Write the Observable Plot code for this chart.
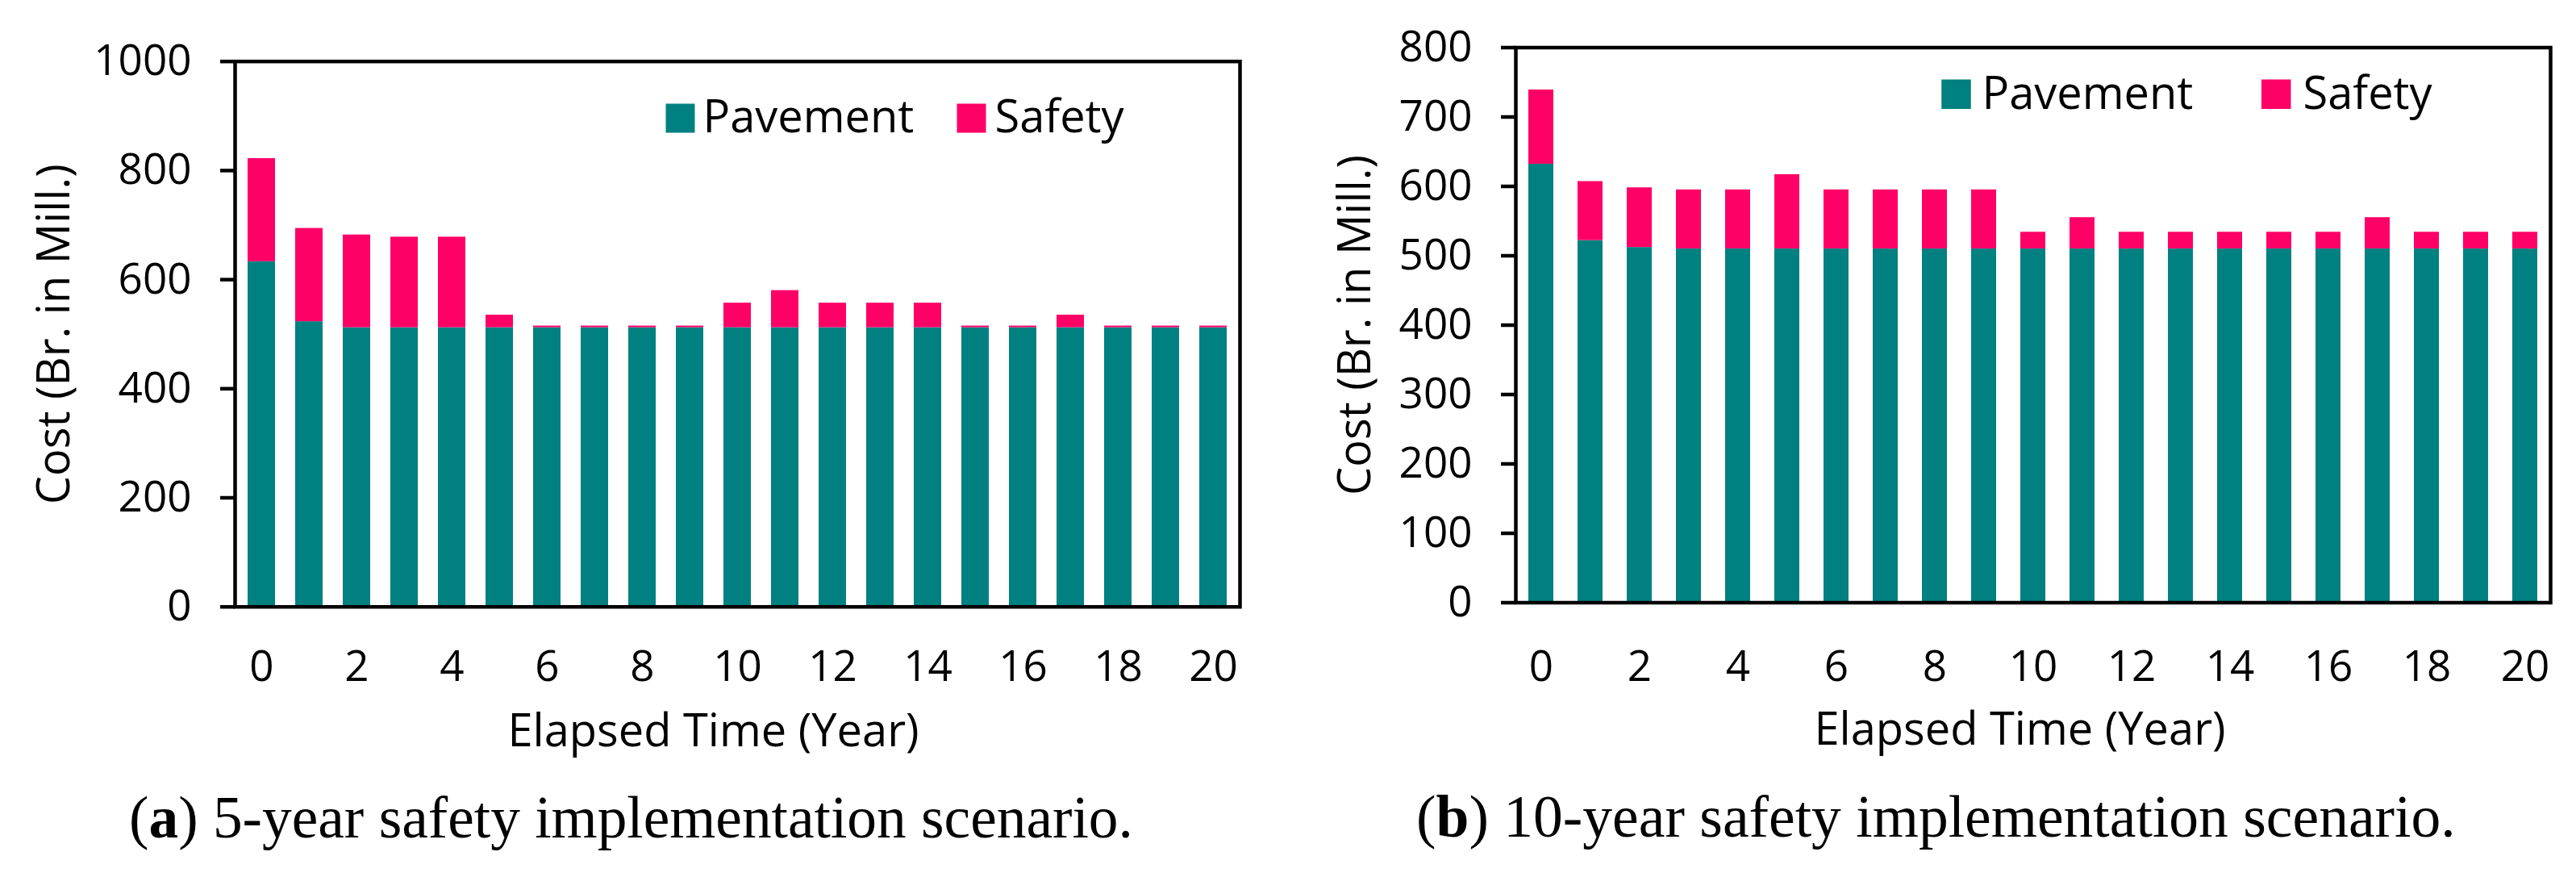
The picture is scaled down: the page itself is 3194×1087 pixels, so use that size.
<!DOCTYPE html>
<html>
<head>
<meta charset="utf-8">
<script src="https://cdn.jsdelivr.net/npm/d3@7"></script>
<script src="https://cdn.jsdelivr.net/npm/@observablehq/plot@0.6"></script>
<style>
  html, body { margin: 0; padding: 0; background: #fff; }
  #page { position: relative; width: 3194px; height: 1087px; overflow: hidden; background: #fff; }
  .panel { position: absolute; top: 0; }
  .cap { position: absolute; white-space: nowrap; font-family: "Liberation Serif", serif; line-height: 1; color: #000; }
</style>
</head>
<body>
<div id="page">
  <div id="left" class="panel" style="left:0px"></div>
  <div id="right" class="panel" style="left:1597px"></div>
  <div id="capA" class="cap"></div>
  <div id="capB" class="cap"></div>
</div>
<script>
// ---- data ----
const years = [0, 1, 2, 3, 4, 5, 6, 7, 8, 9, 10, 11, 12, 13, 14, 15, 16, 17, 18, 19, 20];
const seriesNames = ["Pavement", "Safety"];
const seriesColors = ["#008080", "#FF0066"];

// (a) 5-year safety implementation scenario
const pavement5 = [633, 523, 512, 512, 512, 512, 512, 512, 512, 512, 512, 512, 512, 512, 512, 512, 512, 512, 512, 512, 512];
const safety5   = [189, 171, 170, 166, 166,  23,   3,   3,   3,   3,  45,  68,  45,  45,  45,   3,   3,  23,   3,   3,   3];

// (b) 10-year safety implementation scenario
const pavement10 = [632, 522, 512, 510, 510, 510, 510, 510, 510, 510, 510, 510, 510, 510, 510, 510, 510, 510, 510, 510, 510];
const safety10   = [107,  85,  86,  85,  85, 107,  85,  85,  85,  85,  24,  45,  24,  24,  24,  24,  24,  45,  24,  24,  24];

const yTicks5  = [0, 200, 400, 600, 800, 1000];
const yTicks10 = [0, 100, 200, 300, 400, 500, 600, 700, 800];
const xTicks   = [0, 2, 4, 6, 8, 10, 12, 14, 16, 18, 20];

const yTitle = "Cost (Br. in Mill.)";
const xTitle = "Elapsed Time (Year)";

function rows(pav, saf) {
  return years.flatMap((yr, i) => [
    {year: yr, series: seriesNames[0], value: pav[i]},
    {year: yr, series: seriesNames[1], value: saf[i]}
  ]);
}

function panel(cfg) {
  const data = rows(cfg.pav, cfg.saf);
  const f = 53;
  return Plot.plot({
    width: 1597,
    height: 960,
    marginLeft: cfg.ml,
    marginRight: cfg.mr,
    marginTop: cfg.mt,
    marginBottom: cfg.mb,
    style: {fontFamily: "'Open Sans', sans-serif", color: "#000", background: "transparent", overflow: "visible"},
    x: {type: "band", domain: years, paddingInner: cfg.pi, paddingOuter: cfg.pi / 2, axis: null, label: null},
    y: {domain: cfg.ydom, axis: null, label: null},
    color: {domain: seriesNames, range: seriesColors},
    marks: [
      Plot.barY(data, {x: "year", y: "value", fill: "series"}),
      Plot.frame({stroke: "#000", strokeWidth: 4.5}),
      Plot.axisY({ticks: cfg.yticks, tickFormat: "d", tickSize: 18, tickPadding: 36, fontSize: f, stroke: "#000", strokeWidth: 4.5, label: null}),
      Plot.axisX({ticks: xTicks, tickSize: 0, tickPadding: cfg.xpad, fontSize: f, label: null}),
      Plot.text([yTitle], {text: d => d, frameAnchor: "left", dx: cfg.ytdx, rotate: -90, textAnchor: "middle", lineAnchor: "bottom", fontSize: 56, fill: "#000"}),
      Plot.text([xTitle], {text: d => d, frameAnchor: "bottom", dx: cfg.xtdx, dy: cfg.xtdy, textAnchor: "middle", lineAnchor: "bottom", fontSize: 56, fill: "#000"}),
      // legend
      Plot.dot([seriesNames[0]], {frameAnchor: "top-left", dx: cfg.lg.s1, dy: cfg.lg.sy, symbol: "square", r: cfg.lg.r, fill: seriesColors[0]}),
      Plot.dot([seriesNames[1]], {frameAnchor: "top-left", dx: cfg.lg.s2, dy: cfg.lg.sy, symbol: "square", r: cfg.lg.r, fill: seriesColors[1]}),
      Plot.text([seriesNames[0]], {text: d => d, frameAnchor: "top-left", dx: cfg.lg.t1, dy: cfg.lg.ty, textAnchor: "start", lineAnchor: "bottom", fontSize: 56, fill: "#000"}),
      Plot.text([seriesNames[1]], {text: d => d, frameAnchor: "top-left", dx: cfg.lg.t2, dy: cfg.lg.ty, textAnchor: "start", lineAnchor: "bottom", fontSize: 56, fill: "#000"})
    ]
  });
}

document.getElementById("left").appendChild(panel({
  pav: pavement5, saf: safety5, ydom: [0, 1000], yticks: yTicks5,
  ml: 291, mr: 60, mt: 75.7, mb: 960 - 751.7, pi: 0.42, xpad: 54,
  ytdx: 85 - 291, xtdx: -30, xtdy: 924 - 751.7,
  lg: {s1: 552, s2: 913, sy: 70.4, r: 20.3, t1: 580, t2: 942, ty: 87.8}
}));

document.getElementById("right").appendChild(panel({
  pav: pavement10, saf: safety10, ydom: [0, 800], yticks: yTicks10,
  ml: 282, mr: 32, mt: 58.5, mb: 960 - 746.5, pi: 0.5, xpad: 59,
  ytdx: 1698 - 1879, xtdx: -16.5, xtdy: 922 - 746.5,
  lg: {s1: 546, s2: 942.7, sy: 57.85, r: 20.6, t1: 578, t2: 976, ty: 76.2}
}));

// ---- captions (fit to measured widths) ----
function caption(el, letter, rest, left, targetWidth, baseline) {
  const c = document.createElement("canvas").getContext("2d");
  c.font = "100px 'Liberation Serif'";
  let w = c.measureText("(").width + c.measureText(") " + rest).width;
  c.font = "bold 100px 'Liberation Serif'";
  w += c.measureText(letter).width;
  const size = 100 * targetWidth / w;
  el.style.fontSize = size + "px";
  el.style.left = left + "px";
  el.style.top = (baseline - 0.8375 * size) + "px";
  el.innerHTML = "(<b>" + letter + "</b>) " + rest;
}
caption(document.getElementById("capA"), "a", "5-year safety implementation scenario.", 160, 1245, 1038);
caption(document.getElementById("capB"), "b", "10-year safety implementation scenario.", 1756, 1289, 1038);
</script>
</body>
</html>
